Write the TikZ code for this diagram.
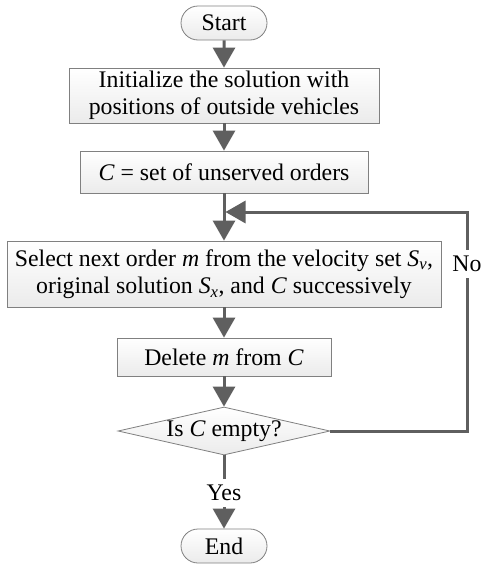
\documentclass[tikz,border=0pt]{standalone}
\usepackage{fontspec}
\setmainfont{Liberation Serif}
\usetikzlibrary{arrows.meta,shapes.geometric,shapes.misc}
\definecolor{flowline}{HTML}{5F5F5F}
\definecolor{boxborder}{HTML}{808080}
\definecolor{boxshade}{HTML}{EBEBEB}

\begin{document}
\begin{tikzpicture}[x=1pt,y=-1pt,font=\fontsize{23.8}{27.5}\selectfont,
  procbox/.style={rectangle,draw=boxborder,line width=0.8pt,top color=white,bottom color=boxshade,align=center,inner sep=0pt},
  terminal/.style={rounded rectangle,draw=boxborder,line width=0.8pt,top color=white,bottom color=boxshade,minimum width=86pt,minimum height=34pt,inner sep=0pt},
  decision/.style={diamond,draw=boxborder,line width=0.8pt,top color=white,bottom color=boxshade,aspect=4.4,inner sep=0pt,minimum width=212pt,minimum height=48pt},
  flow/.style={draw=flowline,line width=3pt},
  flowarrow/.style={flow,-{Triangle[length=20pt,width=22pt]}},
  branch/.style={inner sep=6pt}]
  \useasboundingbox[fill=white] (0,0) rectangle (480,565);

  % nodes of the flow
  \node[terminal] (start) at (224,23) {Start};
  \node[procbox,minimum width=310pt,minimum height=55pt] (init) at (224,95.5)
    {Initialize the solution with\\positions of outside vehicles};
  \node[procbox,minimum width=288pt,minimum height=42pt] (cset) at (224,172)
    {\textit{C} = set of unserved orders};
  \coordinate (join) at (225.5,212);
  \node[procbox,minimum width=434pt,minimum height=66pt] (select) at (224,274)
    {Select next order \textit{m} from the velocity set \textit{S}\textsubscript{\textit{v}},\\
     original solution \textit{S}\textsubscript{\textit{x}}, and \textit{C} successively};
  \node[procbox,minimum width=214pt,minimum height=38pt] (delete) at (224,357)
    {Delete \textit{m} from \textit{C}};
  \node[decision] (check) at (224,431) {Is \textit{C} empty?};
  \node[branch] (yes) at (224,493) {Yes};
  \node[branch] (no) at (467,264) {No};
  \node[terminal] (finish) at (224,546) {End};

  % connectors
  \draw[flowarrow] (start) -- (init);
  \draw[flowarrow] (init) -- (cset);
  \draw[flowarrow] (cset) -- (select);
  \draw[flowarrow] (select) -- (delete);
  \draw[flowarrow] (delete) -- (check);
  \draw[flow] (check.east) -| (no.south);
  \draw[flowarrow] (no.north) |- (join);
  \draw[flow] (check.south) -- (yes.north);
  \draw[flowarrow] (yes.south) -- (finish.north);
\end{tikzpicture}
\end{document}
